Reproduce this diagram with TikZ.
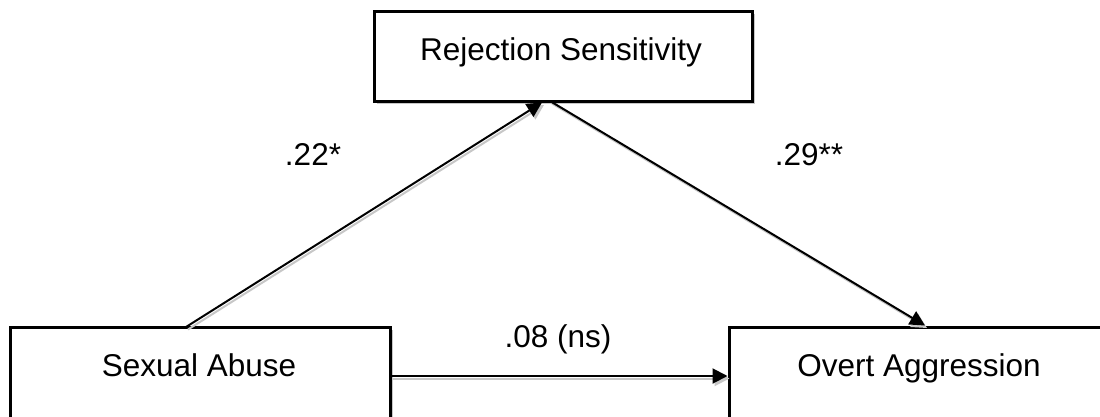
\documentclass[tikz,border=0pt]{standalone}
\usepackage{fontspec}
\setmainfont{Liberation Sans}
\usetikzlibrary{arrows.meta,shadows,calc}
\tikzset{
  box/.style={draw=black, line width=3pt, fill=white, rectangle, inner sep=0pt, outer sep=0pt, anchor=north west,
    drop shadow={shadow xshift=3pt, shadow yshift=-3pt, fill=black!22, opacity=1}},
  txt/.style={font=\fontsize{31.5}{36}\selectfont, inner sep=0pt, anchor=base},
  conn/.style={line width=2pt, -{Triangle[length=15pt,width=15pt]},
    preaction={draw=black!22, line width=2pt, -{Triangle[length=15pt,width=15pt]}, transform canvas={xshift=2pt,yshift=-2.5pt}}}
}
\begin{document}
\begin{tikzpicture}[x=1pt,y=-1pt]
\useasboundingbox (0,0) rectangle (1100,416);
\clip (0,0) rectangle (1100,416);
\fill[white] (0,0) rectangle (1100,416);
% boxes
\node[box, minimum width=378pt, minimum height=90pt] (rs) at (374,11) {};
\node[box, minimum width=380pt, minimum height=140pt] (sa) at (10,327) {};
\node[box, minimum width=400pt, minimum height=140pt] (oa) at (729,327) {};
% box texts
\node[txt] (rst) at (561,60) {Rejection Sensitivity};
\node[txt] (sat) at (199,376) {Sexual Abuse};
\node[txt] (oat) at (919,376) {Overt Aggression};
% connector end points
\coordinate (a1) at ($(sa.north west)+(176,0)$);
\coordinate (a2) at ($(rs.south west)+(168,1.5)$);
\coordinate (b1) at ($(rs.south west)+(176,0)$);
\coordinate (b2) at ($(oa.north west)+(196,-1.5)$);
\coordinate (c1) at ($(sa.north east)+(0,49)$);
\coordinate (c2) at ($(oa.north west)+(-1.5,49)$);
\draw[conn] (a1) -- (a2);
\draw[conn] (b1) -- (b2);
\draw[conn] (c1) -- (c2);
% path labels
\node[txt] (l1) at (313,165) {.22*};
\node[txt] (l2) at (809,165) {.29**};
\node[txt] (l3) at (558,347) {.08 (ns)};
\end{tikzpicture}
\end{document}
